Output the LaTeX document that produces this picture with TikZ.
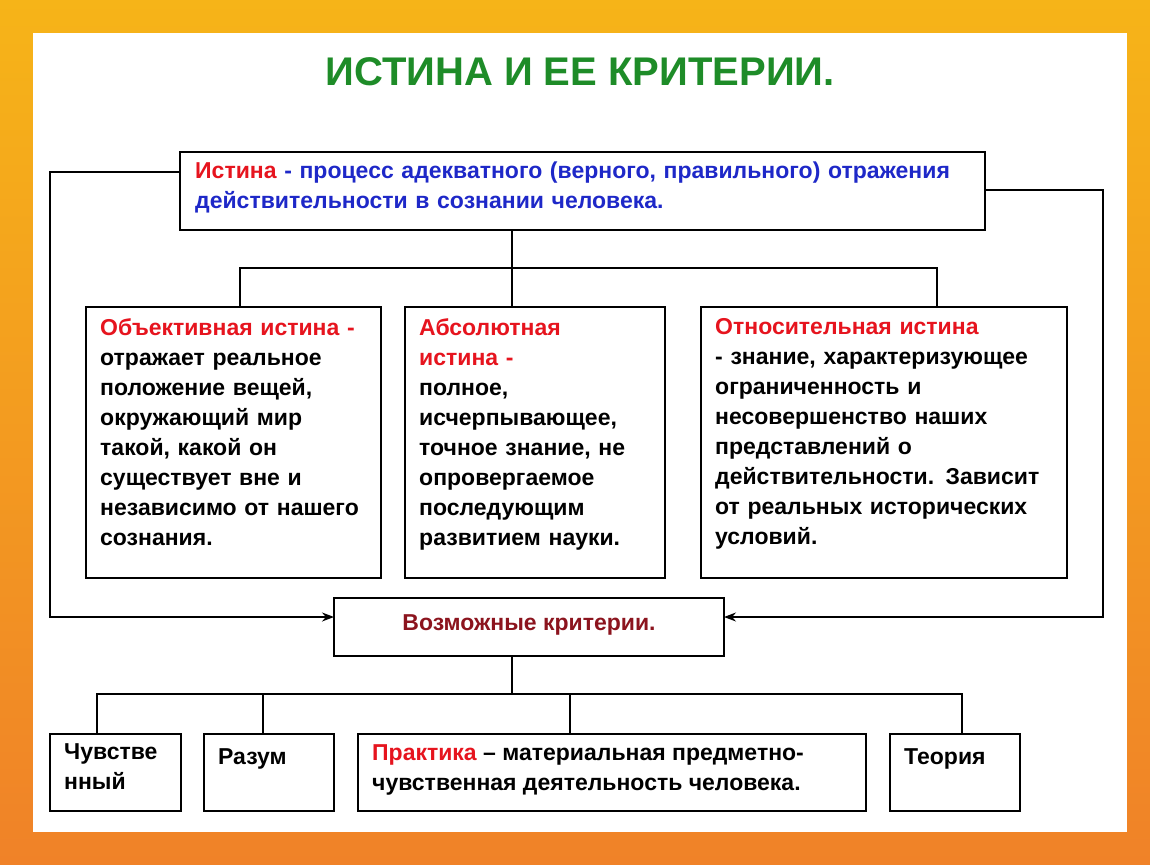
\documentclass[tikz,border=0pt]{standalone}
\usepackage{fontspec}
\setmainfont{Liberation Sans}
\usetikzlibrary{arrows.meta}
\definecolor{ttlgreen}{RGB}{30,140,40}
\definecolor{hdred}{RGB}{230,20,30}
\definecolor{dkred}{RGB}{140,20,30}
\definecolor{defblue}{RGB}{30,40,200}
\definecolor{flame}{RGB}{240,130,40}
\begin{document}
\begin{tikzpicture}[x=1pt, y=-1pt,
    box/.style={draw, line width=1.3pt, fill=white},
    txt/.style={anchor=north west, align=left, inner sep=0pt,
      font=\bfseries\fontsize{23}{30}\selectfont},
    link/.style={line width=1.3pt}]
  \useasboundingbox (0,0) rectangle (1150,864);
  % background
  \shade[top color=flame!60!yellow, bottom color=flame] (0,0) rectangle (1150,864);
  \fill[white] (33,33) rectangle (1127,832);
  \node[font=\bfseries\fontsize{40}{44}\selectfont, text=ttlgreen] (title) at (580,72) {ИСТИНА И ЕЕ КРИТЕРИИ.};
  % boxes
  \draw[box] (180,152) rectangle (985,230);
  \node[txt, text width=790pt] (top) at (195,162) {\textcolor{hdred}{Истина} \textcolor{defblue}{- процесс адекватного (верного, правильного) отражения}\\\textcolor{defblue}{действительности в сознании человека.}};
  \draw[box] (86,307) rectangle (381,578);
  \node[txt, text width=290pt] (obj) at (100,318) {\textcolor{hdred}{Объективная истина -}\\отражает реальное\\положение вещей,\\окружающий мир\\такой, какой он\\существует вне и\\независимо от нашего\\сознания.};
  \draw[box] (405,307) rectangle (665,578);
  \node[txt, text width=250pt] (abs) at (419,318) {\textcolor{hdred}{Абсолютная}\\\textcolor{hdred}{истина -}\\полное,\\исчерпывающее,\\точное знание, не\\опровергаемое\\последующим\\развитием науки.};
  \draw[box] (701,307) rectangle (1067,578);
  \node[txt, text width=360pt] (rel) at (715,318) {\textcolor{hdred}{Относительная истина}\\- знание, характеризующее\\ограниченность и\\несовершенство наших\\представлений о\\действительности. Зависит\\от реальных исторических\\условий.};
  \draw[box] (334,598) rectangle (724,656);
  \node[font=\bfseries\fontsize{23}{30}\selectfont, text=dkred] (crit) at (529,625) {Возможные критерии.};
  \draw[box] (50,734) rectangle (181,811);
  \node[txt] (feel) at (64,743) {Чувстве\\нный};
  \draw[box] (204,734) rectangle (334,811);
  \node[txt] (mind) at (218,748) {Разум};
  \draw[box] (358,734) rectangle (866,811);
  \node[txt] (prac) at (372,744) {\textcolor{hdred}{Практика} -- материальная предметно-\\чувственная деятельность человека.};
  \draw[box] (890,734) rectangle (1020,811);
  \node[txt] (theo) at (904,748) {Теория};
  % connectors
  \draw[link] (512,230) -- (512,268);
  \draw[link] (240,307) |- (937,268) -- (937,307);
  \draw[link] (512,268) -- (512,307);
  \draw[link, -{Stealth[length=12pt,width=9pt]}] (180,172) -- (50,172) -- (50,617) -- (334,617);
  \draw[link, -{Stealth[length=12pt,width=9pt]}] (985,190) -- (1103,190) -- (1103,617) -- (724,617);
  \draw[link] (512,656) -- (512,694);
  \draw[link] (97,734) |- (962,694) -- (962,734);
  \draw[link] (263,694) -- (263,734);
  \draw[link] (570,694) -- (570,734);
\end{tikzpicture}
\end{document}
